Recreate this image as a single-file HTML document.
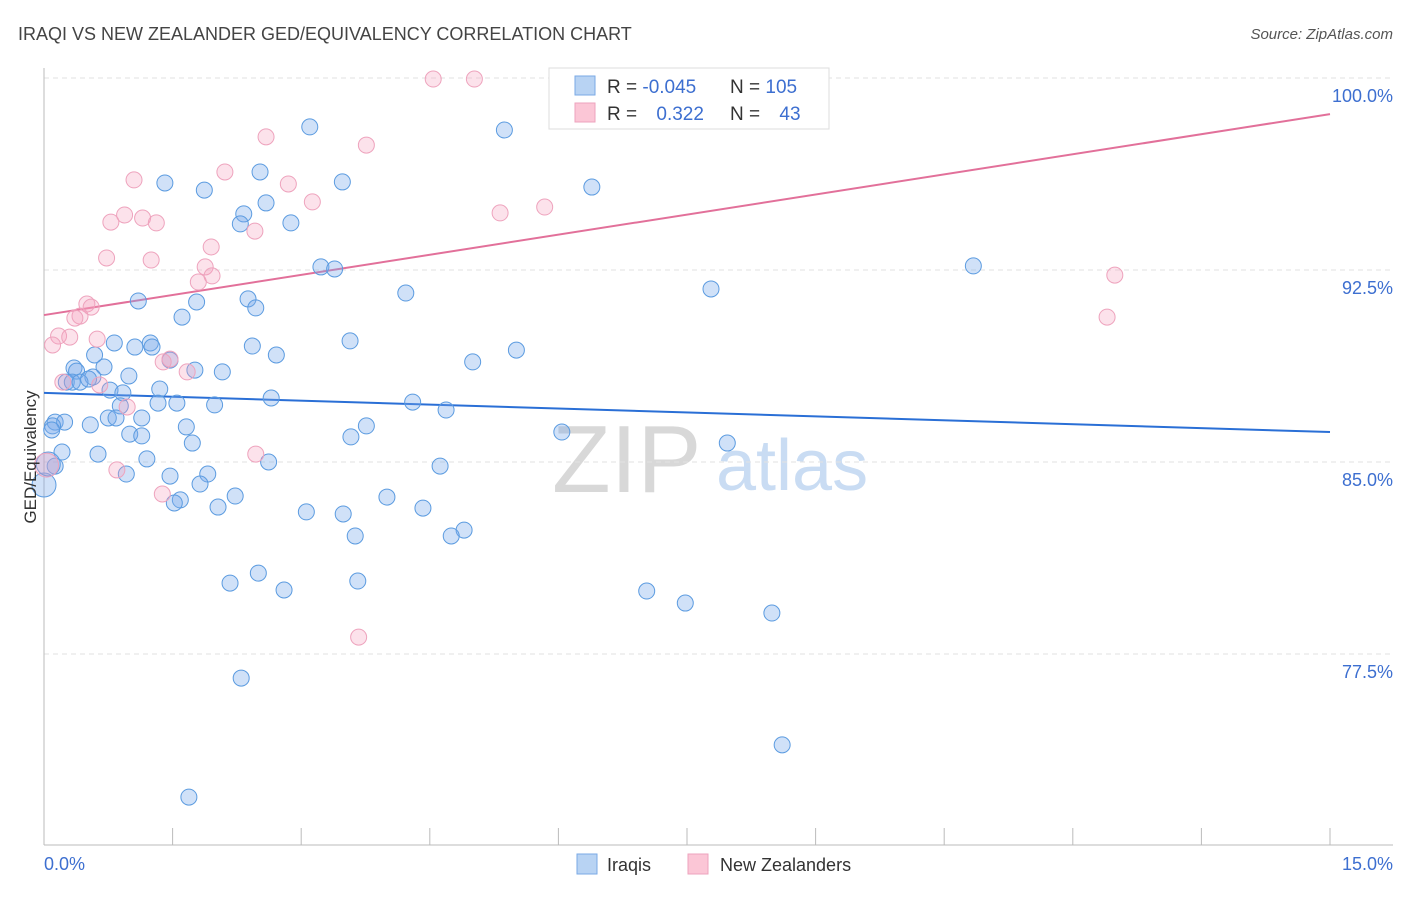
<!DOCTYPE html>
<html><head><meta charset="utf-8">
<style>
body{margin:0;background:#fff;font-family:"Liberation Sans",sans-serif;}
svg text{font-family:"Liberation Sans",sans-serif;}
</style></head>
<body>
<svg id="chart" width="1406" height="892" viewBox="0 0 1406 892" xmlns="http://www.w3.org/2000/svg">
<text x="18" y="40" font-size="18" fill="#444">IRAQI VS NEW ZEALANDER GED/EQUIVALENCY CORRELATION CHART</text>
<text x="1393" y="39" font-size="15" fill="#555" font-style="italic" text-anchor="end">Source: ZipAtlas.com</text>
<g>
<text x="552" y="492" font-size="96" fill="#d8d8d8" font-family="Liberation Serif">ZIP</text>
<text x="716" y="490" font-size="72" fill="#c9dcf3">atlas</text>
</g>
<g id="grid"></g>
<g id="axes"></g>
<g id="trends"></g>
<g id="points"></g>
<text x="36" y="457" font-size="17" fill="#333" text-anchor="middle" transform="rotate(-90 36 457)">GED/Equivalency</text>
<text x="44" y="870" font-size="18" fill="#3d6fd0">0.0%</text>
<text x="1393" y="870" font-size="18" fill="#3d6fd0" text-anchor="end">15.0%</text>
<g>
<rect x="549" y="68" width="280" height="61" fill="#fff" stroke="#ddd"/>
<rect x="575" y="76" width="20" height="19" fill="#b8d3f3" stroke="#7aaae6"/>
<rect x="575" y="103" width="20" height="19" fill="#fbc6d6" stroke="#eea3bd"/>
<text x="607" y="93" font-size="19" fill="#333">R = <tspan fill="#3d6fd0">-0.045</tspan></text>
<text x="730" y="93" font-size="19" fill="#333">N = <tspan fill="#3d6fd0">105</tspan></text>
<text x="607" y="120" font-size="19" fill="#333">R = <tspan fill="#3d6fd0" dx="14">0.322</tspan></text>
<text x="730" y="120" font-size="19" fill="#333">N = <tspan fill="#3d6fd0" dx="14">43</tspan></text>
</g>
<g>
<rect x="577" y="854" width="20" height="20" fill="#b8d3f3" stroke="#7aaae6"/>
<text x="607" y="871" font-size="18" fill="#333">Iraqis</text>
<rect x="688" y="854" width="20" height="20" fill="#fbc6d6" stroke="#eea3bd"/>
<text x="720" y="871" font-size="18" fill="#333">New Zealanders</text>
</g>
</svg>
<script>
const yTicks=[100,92.5,85,77.5];
const yTickLabels=["100.0%","92.5%","85.0%","77.5%"];
const xTicks=[0,1.5,3,4.5,6,7.5,9,10.5,12,13.5,15];
const iraqX=[3.10,5.37,2.52,1.41,1.87,3.48,6.39,2.59,2.33,2.29,2.88,3.23,3.39,10.84,4.22,7.78,1.10,1.78,2.38,2.47,1.61,0.82,1.24,1.06,1.26,2.43,3.57,2.71,0.59,5.00,5.51,1.47,0.35,0.70,0.38,1.76,2.08,0.57,0.99,0.26,0.33,0.42,0.52,0.77,1.35,0.92,0.89,1.33,1.55,2.65,4.30,4.69,1.99,0.13,0.24,0.10,0.75,0.84,1.14,0.54,1.66,1.00,1.14,3.58,3.76,6.04,7.97,1.73,0.21,0.63,1.20,0.13,2.62,4.62,0.96,1.91,1.47,1.82,2.23,4.00,1.59,1.52,2.03,3.06,3.49,4.42,4.90,3.63,4.75,0.0,2.17,2.50,2.80,3.66,7.03,7.48,8.49,2.30,8.61,1.69,0.05,0.09];
const iraqY=[98.09,97.97,96.33,95.90,95.62,95.94,95.74,95.12,94.69,94.30,94.34,92.62,92.54,92.66,91.60,91.76,91.29,91.25,91.37,91.02,90.66,89.65,89.65,89.49,89.49,89.53,89.73,89.18,89.18,88.91,89.37,88.98,88.67,88.71,88.55,88.59,88.52,88.32,88.36,88.12,88.12,88.12,88.24,87.81,87.85,87.70,87.19,87.30,87.30,87.50,87.34,87.03,87.23,86.56,86.56,86.41,86.72,86.72,86.72,86.45,86.37,86.09,86.02,85.98,86.41,86.17,85.74,85.74,85.39,85.31,85.12,84.84,85.00,84.84,84.53,84.53,84.45,84.14,83.67,83.63,83.52,83.40,83.24,83.05,82.97,83.20,82.34,82.11,82.11,84.10,80.27,80.66,80.00,80.35,79.96,79.49,79.10,76.56,73.95,71.91,84.92,86.25];
const nzX=[4.54,5.02,6.96,3.76,2.59,1.05,2.11,2.85,3.13,5.32,5.84,0.78,0.94,1.15,1.31,2.46,1.95,0.73,1.25,1.88,1.96,1.80,12.49,12.40,0.50,0.55,0.42,0.36,0.17,0.30,0.10,0.62,1.47,1.39,1.67,0.22,0.65,0.97,2.47,0.85,1.38,3.67,0.03];
const nzY=[99.96,99.96,99.96,97.38,97.70,96.02,96.33,95.86,95.16,94.73,94.96,94.37,94.65,94.53,94.34,94.02,93.40,92.97,92.89,92.62,92.27,92.03,92.30,90.66,91.17,91.05,90.70,90.62,89.92,89.88,89.57,89.80,89.02,88.91,88.52,88.12,88.01,87.15,85.31,84.69,83.75,78.16,84.88];
const iraqBig=[89,100];
const nzBig=[42];
const trendX=[0,15];
const iraqTrend=[87.70,86.17];
const nzTrend=[90.74,98.59];

const NS="http://www.w3.org/2000/svg";
const X=v=>44+v*1286/15;
const Y=v=>78+(100-v)*25.6;
function mk(tag,attrs,parent){const e=document.createElementNS(NS,tag);for(const k in attrs)e.setAttribute(k,attrs[k]);parent.appendChild(e);return e;}
const grid=document.getElementById('grid'),axes=document.getElementById('axes'),trends=document.getElementById('trends'),pts=document.getElementById('points');
yTicks.forEach((t,i)=>{
  const l=mk('line',{x1:44,x2:1393,y1:Y(t),y2:Y(t),stroke:'#e2e2e2','stroke-dasharray':'5,4'},grid);
  
  
  const tx=mk('text',{x:1393,y:Y(t)+24,'font-size':18,fill:'#3d6fd0','text-anchor':'end'},grid);
  tx.textContent=yTickLabels[i];
  
  
});
const ya=mk('line',{x1:44,x2:44,y1:68,y2:845,stroke:'#bbb'},axes);


const xa=mk('line',{x1:44,x2:1393,y1:845,y2:845,stroke:'#bbb'},axes);


xTicks.forEach(t=>{
  const l=mk('line',{x1:X(t),x2:X(t),y1:828,y2:845,stroke:'#bbb'},axes);
  
  
});
function dots(xs,ys,big,fill,stroke,name){
  xs.forEach((x,i)=>{
    const r=big.includes(i)?12:8;
    const c=mk('circle',{cx:X(x),cy:Y(ys[i]),r:r,fill:fill,stroke:stroke,'stroke-width':1},pts);
    
    
  });
}
dots(iraqX,iraqY,iraqBig,'rgba(120,170,235,0.35)','#5b9be0','iraqi-point');
dots(nzX,nzY,nzBig,'rgba(245,160,190,0.3)','#eea3bd','nz-point');
const t1=mk('line',{x1:X(trendX[0]),y1:Y(iraqTrend[0]),x2:X(trendX[1]),y2:Y(iraqTrend[1]),stroke:'#2a6fd6','stroke-width':2},trends);


const t2=mk('line',{x1:X(trendX[0]),y1:Y(nzTrend[0]),x2:X(trendX[1]),y2:Y(nzTrend[1]),stroke:'#e2709a','stroke-width':2},trends);


</script>
</body></html>
